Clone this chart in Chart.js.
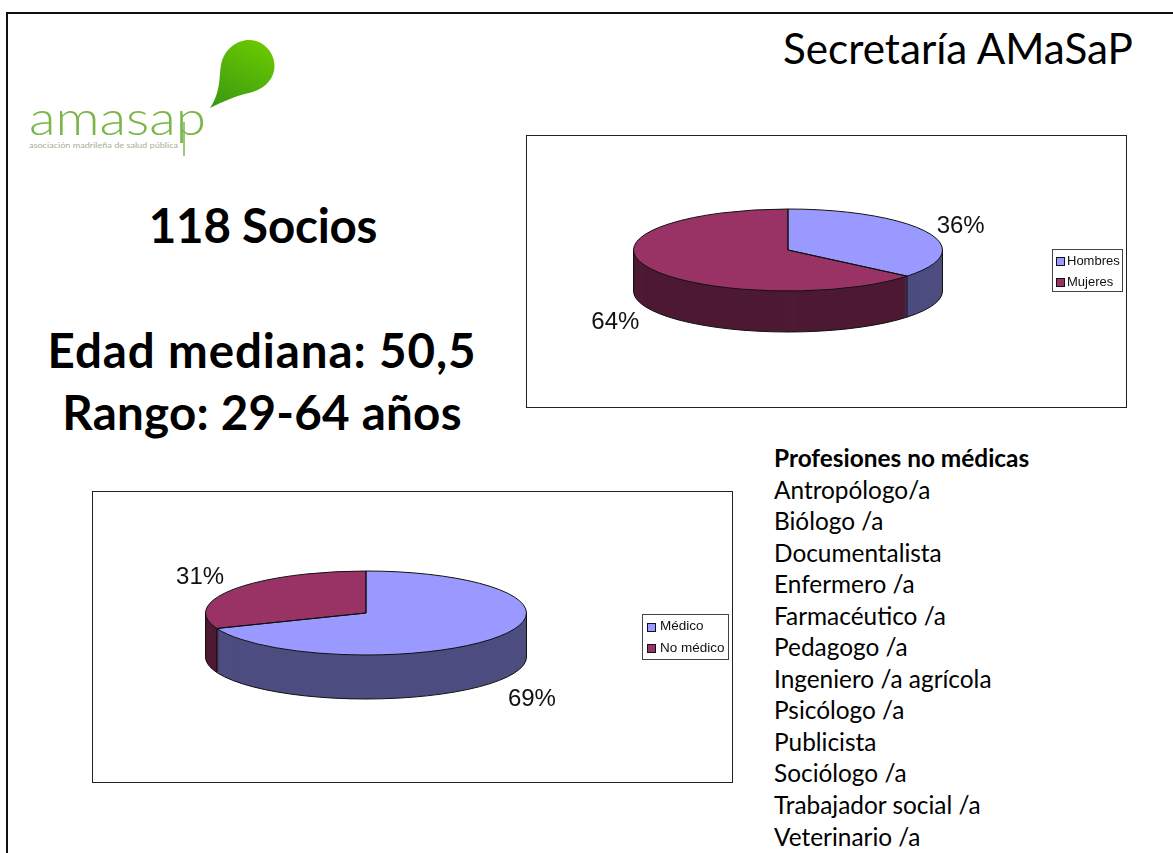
<!DOCTYPE html>
<html lang="es"><head><meta charset="utf-8">
<script src="https://cdn.jsdelivr.net/npm/chart.js@4"></script>
<style>
html,body{margin:0;padding:0;background:#fff;width:1173px;height:853px;overflow:hidden}
body{position:relative;font-family:Lato,"Open Sans",sans-serif;color:#000}
.frame{position:absolute;left:6px;top:12px;width:1300px;height:1000px;border:2px solid #111;box-sizing:border-box}
.t{position:absolute;white-space:nowrap}
.c{transform:translateX(-50%);font-weight:700;font-size:47.5px;line-height:50px}
.box{position:absolute;border:1.5px solid #222;box-sizing:border-box;background:#fff}
.box canvas{position:absolute;left:-1.5px;top:-1.5px}
#list{position:absolute;left:774px;top:442px;font-size:24.4px;line-height:31.55px}
#list b{display:block}
#list span{display:block}
</style></head><body>
<div class="frame"></div>
<svg style="position:absolute;left:0;top:0" width="300" height="170">
<defs><linearGradient id="g" x1="0.7" y1="0" x2="0.2" y2="1"><stop offset="0" stop-color="#69c800"/><stop offset="1" stop-color="#3c9a12"/></linearGradient></defs>
<path d="M210,108 C221,92 219,76 221,65 C224,49 237,40 249,40 C263,40 274.500,52 274.500,66 C274.500,80 263,90 249,93 C235,96 222,102 210,108 Z" fill="url(#g)"/>
<text x="29" y="135" font-family="Lato" font-weight="300" font-size="47" fill="#7ab648" textLength="177" lengthAdjust="spacingAndGlyphs">amasap</text>
<line x1="184" y1="122" x2="184" y2="156" stroke="#7ab648" stroke-width="1.500"/>
<text x="29" y="148" font-family="Lato" font-size="7.500" fill="#a4b196" textLength="149" lengthAdjust="spacingAndGlyphs">asociación madrileña de salud pública</text>
</svg>
<div class="t" id="title" style="left:783px;top:21px;font-size:42.2px;line-height:54px">Secretaría AMaSaP</div>
<div class="t c" style="left:263px;top:200px;letter-spacing:-.2px">118 Socios</div>
<div class="t c" style="left:262px;top:325px;letter-spacing:.9px">Edad mediana: 50,5</div>
<div class="t c" style="left:262px;top:387px;letter-spacing:.25px">Rango: 29-64 años</div>
<div class="box" style="left:526px;top:135px;width:601px;height:273px"><canvas id="c1" width="601" height="273"></canvas></div>
<div class="box" style="left:92px;top:491px;width:641px;height:292px"><canvas id="c2" width="641" height="292"></canvas></div>
<div id="list"></div>
<script>
const sexCategories = ["Hombres", "Mujeres"];
const sexValues = [36, 64];
const jobCategories = ["Médico", "No médico"];
const jobValues = [69, 31];
const listHeading = "Profesiones no médicas";
const professions = ["Antropólogo/a","Biólogo /a","Documentalista","Enfermero /a","Farmacéutico /a","Pedagogo /a","Ingeniero /a agrícola","Psicólogo /a","Publicista","Sociólogo /a","Trabajador social /a","Veterinario /a"];
const topColors = ["#9999FF", "#993366"];
const sideColors = ["#4D4D80", "#4D1933"];

const list = document.getElementById('list');
const h = document.createElement('b'); h.textContent = listHeading; list.appendChild(h);
professions.forEach(p => { const s = document.createElement('span'); s.textContent = p; list.appendChild(s); });

const LEGEND_PAD = 8, LEGEND_BOX = 2;
const pie3d = {
  id: 'pie3d',
  afterLayout(chart, args, o) {
    const l = chart.legend;
    const w = l.width, h = l.height;
    l.left = o.textX - LEGEND_PAD - LEGEND_BOX - o.legendSize / 2; l.right = l.left + w;
    l.top = o.legendY + o.legendH / 2 - h / 2 + o.legendShift; l.bottom = l.top + h;
    l.adjustHitBoxes();
  },
  beforeDatasetsDraw(chart, args, o) {
    const ctx = chart.ctx, arcs = chart.getDatasetMeta(0).data;
    const a0 = arcs[0], k = o.ry / a0.outerRadius;
    const place = dy => { ctx.translate(o.cx, o.cy + dy); ctx.scale(1, k); ctx.translate(-a0.x, -a0.y); };
    for (let d = o.depth; d >= 1; d--) {
      arcs.forEach((arc, i) => {
        const saved = arc.options;
        arc.options = Object.assign({}, saved, { backgroundColor: sideColors[i] });
        ctx.save(); place(d); arc.draw(ctx); ctx.restore();
        arc.options = saved;
      });
    }
    ctx.save(); place(0);
  },
  afterDatasetsDraw(chart, args, o) {
    const ctx = chart.ctx, arcs = chart.getDatasetMeta(0).data;
    ctx.restore();
    const r = arcs[0].outerRadius, x = o.cx, y = o.cy, total = chart.data.datasets[0].data.reduce((a, b) => a + b, 0);
    ctx.save();
    ctx.strokeStyle = '#111'; ctx.lineWidth = 1;
    ctx.beginPath();
    ctx.ellipse(x, y + o.depth, r, o.ry, 0, 0, Math.PI);
    ctx.moveTo(x - r, y); ctx.lineTo(x - r, y + o.depth);
    ctx.moveTo(x + r, y); ctx.lineTo(x + r, y + o.depth);
    arcs.forEach(a => {
      const s = Math.sin(a.startAngle), c = Math.cos(a.startAngle);
      if (s > 0) { ctx.moveTo(x + r * c, y + o.ry * s); ctx.lineTo(x + r * c, y + o.ry * s + o.depth); }
    });
    ctx.stroke();
    arcs.forEach(a => {
      ctx.beginPath();
      ctx.ellipse(x, y, r, o.ry, 0, a.startAngle, a.endAngle);
      ctx.lineTo(x, y);
      ctx.closePath();
      ctx.stroke();
    });
    ctx.fillStyle = '#111'; ctx.font = '24px "Liberation Sans"';
    ctx.textAlign = 'center'; ctx.textBaseline = 'middle';
    arcs.forEach((a, i) => {
      const m = (a.startAngle + a.endAngle) / 2, s = Math.sin(m), c = Math.cos(m);
      const v = chart.data.datasets[0].data[i];
      ctx.fillText(Math.round(v / total * 100) + '%', x + c * r * o.fx, y + s * o.ry * o.fy + (s > 0 ? o.depth : 0) + 3.5);
    });
    ctx.restore();
  },
  afterDraw(chart, args, o) {
    const l = chart.legend, ctx = chart.ctx;
    ctx.save();
    ctx.strokeStyle = '#444'; ctx.lineWidth = 1;
    ctx.strokeRect(o.legendX + .5, o.legendY + .5, o.legendW, o.legendH);
    l.legendHitBoxes.forEach((hit, i) => {
      const sy = Math.round(hit.top + hit.height / 2 - 4) + .5;
      ctx.fillStyle = topColors[i]; ctx.strokeStyle = '#111';
      ctx.fillRect(o.swatchX, sy, 8, 8); ctx.strokeRect(o.swatchX, sy, 8, 8);
    });
    ctx.restore();
  }
};

function makePie(id, cats, vals, conf) {
  new Chart(document.getElementById(id), {
    type: 'pie',
    data: { labels: cats, datasets: [{ data: vals, backgroundColor: topColors, borderWidth: 0, clip: false, radius: conf.r }] },
    plugins: [pie3d],
    options: {
      responsive: false, animation: false,
      plugins: {
        tooltip: { enabled: false },
        legend: {
          position: 'right',
          labels: {
            boxWidth: LEGEND_BOX, boxHeight: 2, padding: LEGEND_PAD, color: '#111',
            font: { family: 'Liberation Sans', size: conf.legendSize },
            generateLabels(c) {
              return Chart.overrides.pie.plugins.legend.labels.generateLabels(c)
                .map(l => Object.assign(l, { fillStyle: 'rgba(0,0,0,0)', strokeStyle: 'rgba(0,0,0,0)', lineWidth: 0 }));
            }
          }
        },
        pie3d: conf
      }
    }
  });
}
makePie('c1', sexCategories, sexValues, { r: 154.5, ry: 41, depth: 41, cx: 262, cy: 115, fx: 1.235, fy: 1.57, legendSize: 13, legendX: 526, legendY: 114, legendW: 70, legendH: 42, textX: 541, swatchX: 530.5, legendShift: 1.5 });
makePie('c2', jobCategories, jobValues, { r: 160.5, ry: 42, depth: 44, cx: 274, cy: 122, fx: 1.25, fy: 1.65, legendSize: 13.5, legendX: 550, legendY: 123, legendW: 86, legendH: 45, textX: 568, swatchX: 555.5, legendShift: 1 });
</script>
</body></html>
